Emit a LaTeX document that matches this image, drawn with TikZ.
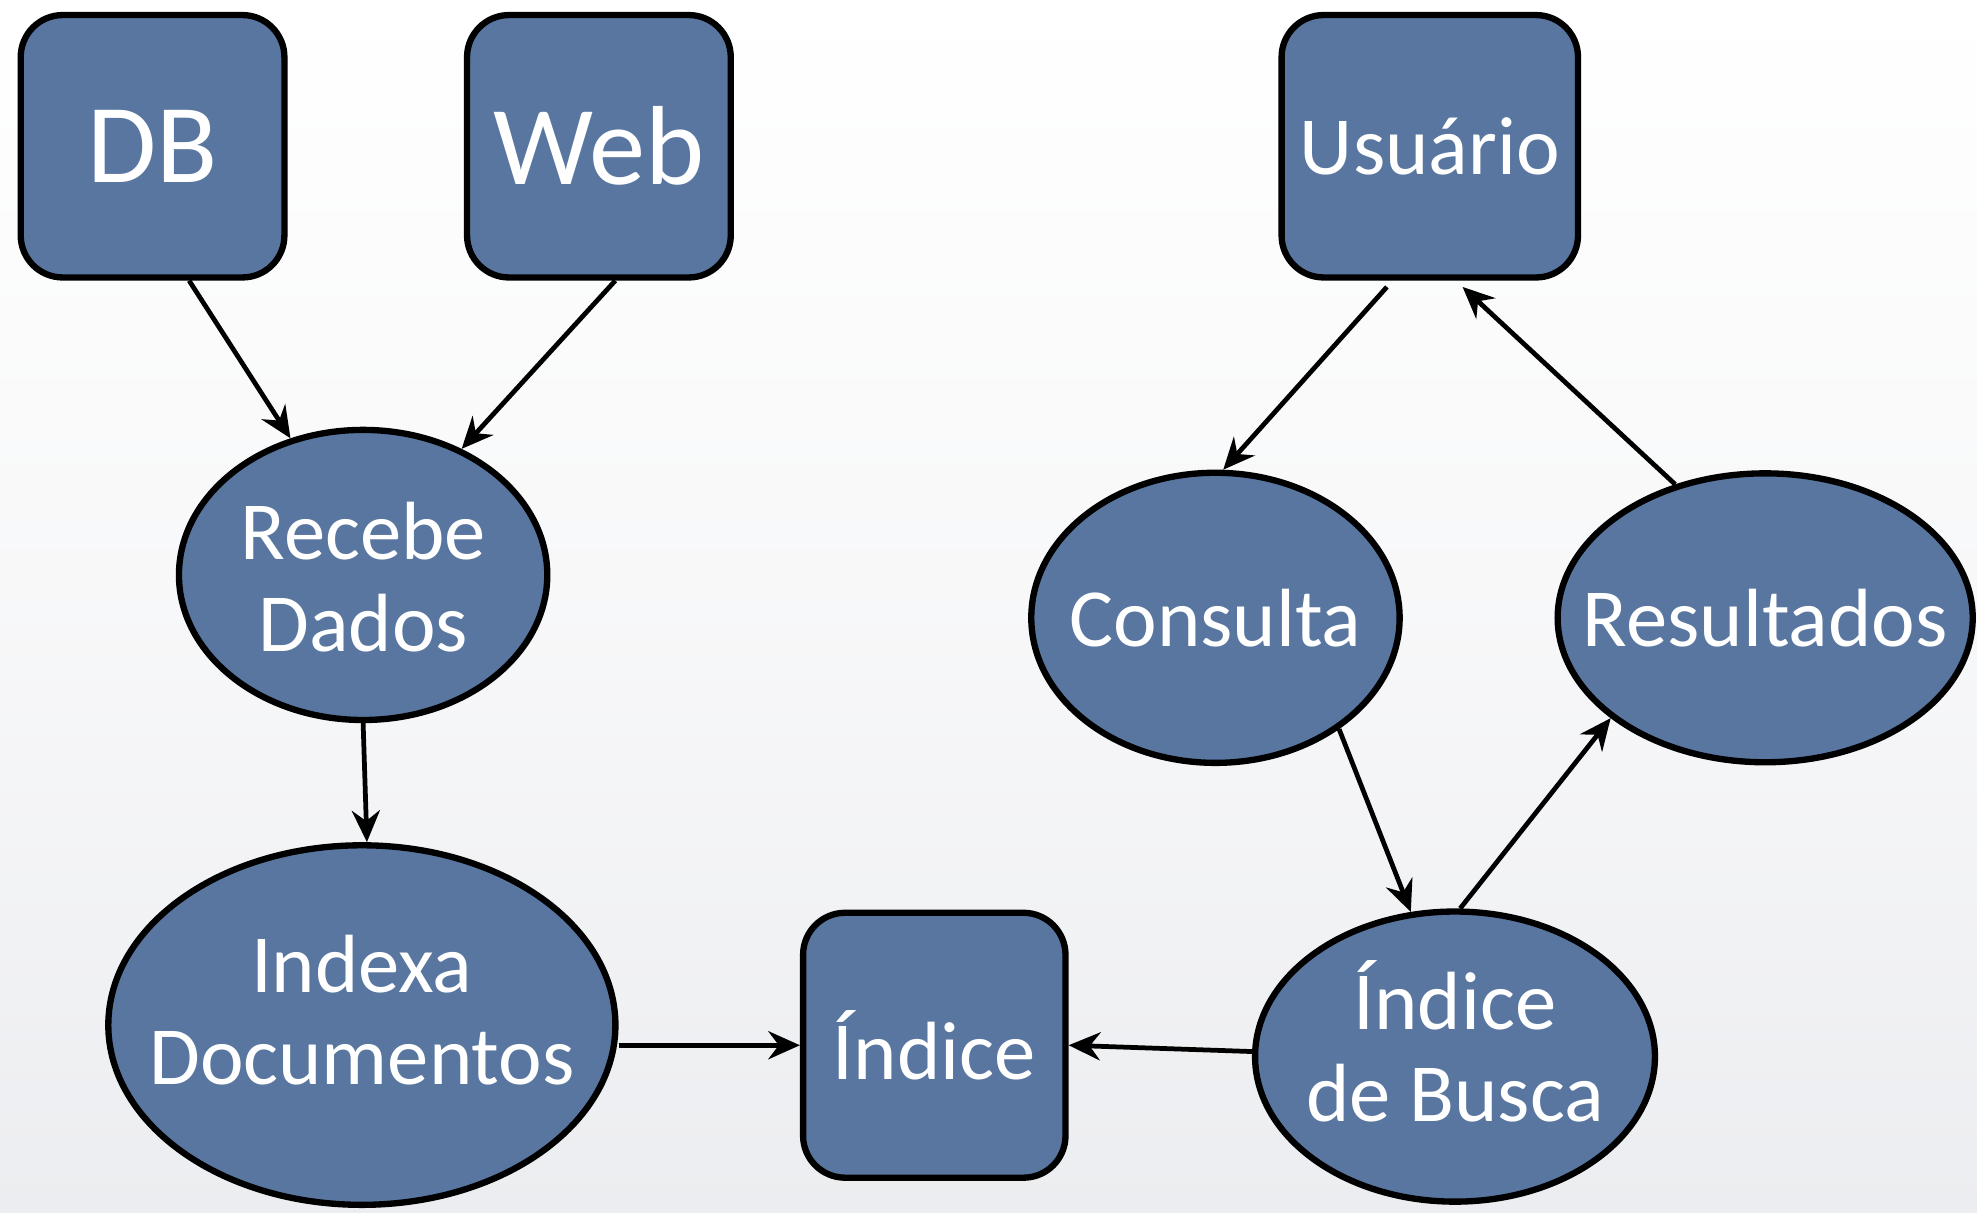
\documentclass[tikz,border=0pt]{standalone}
\usepackage{fontspec}
\setmainfont{Carlito}
\usetikzlibrary{shapes.geometric,arrows.meta,calc}
\definecolor{nodefill}{RGB}{89,118,160}
\definecolor{bgbottom}{RGB}{236,237,240}
\tikzset{
  boxnode/.style={draw=black, line width=1.8pt, fill=nodefill, rounded corners=0.42cm,
    inner sep=0pt, text=white, font=\fontsize{23.5}{26.2}\selectfont},
  ellnode/.style={draw=black, line width=1.8pt, fill=nodefill, ellipse, inner sep=0pt},
  elltext/.style={text=white, align=center, inner sep=0pt, font=\fontsize{23.5}{26.2}\selectfont},
  bigtext/.style={font=\fontsize{32}{35}\selectfont},
  arr/.style={line width=1.35pt, -{Stealth[length=9pt,width=8pt,inset=3pt]}}
}
\begin{document}
\begin{tikzpicture}[x=0.01261cm, y=-0.01261cm]
  % background
  \shade[top color=white, bottom color=bgbottom, middle color=white!60!bgbottom] (0,0) rectangle (1568,962);
  \useasboundingbox (0,0) rectangle (1568,962);

  % boxes
  \node[boxnode, bigtext, minimum width=2.636cm, minimum height=2.623cm] (db) at (121,116) {DB};
  \node[boxnode, bigtext, minimum width=2.636cm, minimum height=2.623cm] (web) at (475,116) {Web};
  \node[boxnode, minimum width=2.963cm, minimum height=2.623cm] (usr) at (1134,116) {Usuário};
  \node[boxnode, minimum width=2.623cm, minimum height=2.648cm] (ind) at (741,829) {Índice};

  % ellipses
  \node[ellnode, minimum width=3.682cm, minimum height=2.900cm] (rec) at (288,456) {};
  \node[elltext] (recT) at ($(rec)+(0,2)$) {Recebe\\Dados};
  \node[ellnode, minimum width=5.069cm, minimum height=3.594cm] (idx) at (287,813) {};
  \node[elltext] (idxT) at ($(idx)+(0,-12)$) {Indexa\\Documentos};
  \node[ellnode, minimum width=3.997cm, minimum height=2.900cm] (bus) at (1154,838) {};
  \node[elltext] (busT) at ($(bus)+(0,-12)$) {Índice\\de Busca};
  \node[ellnode, minimum width=3.682cm, minimum height=2.900cm] (con) at (964,490) {};
  \node[elltext] (conT) at (con) {Consulta};
  \node[ellnode, minimum width=4.149cm, minimum height=2.888cm] (res) at (1400,490) {};
  \node[elltext] (resT) at (res) {Resultados};

  % connectors
  \draw[arr] ($(db.south)+(29,0)$) -- (rec.118);
  \draw[arr] ($(web.south)+(13,0)$) -- (rec.52);
  \draw[arr] (rec.south) -- ($(idx.north)+(4,0)$);
  \draw[arr] (idx.east |- ind.west) -- (ind.west);
  \draw[arr] ($(bus.west)+(0,-4)$) -- (ind.east);
  \draw[arr] ($(usr.south)+(-34,5)$) -- (con.87);
  \draw[arr] (res.124) -- ($(usr.south)+(26,5)$);
  \draw[arr] (con.-42) -- (bus.107);
  \draw[arr] (bus.88) -- (res.213);
\end{tikzpicture}
\end{document}
